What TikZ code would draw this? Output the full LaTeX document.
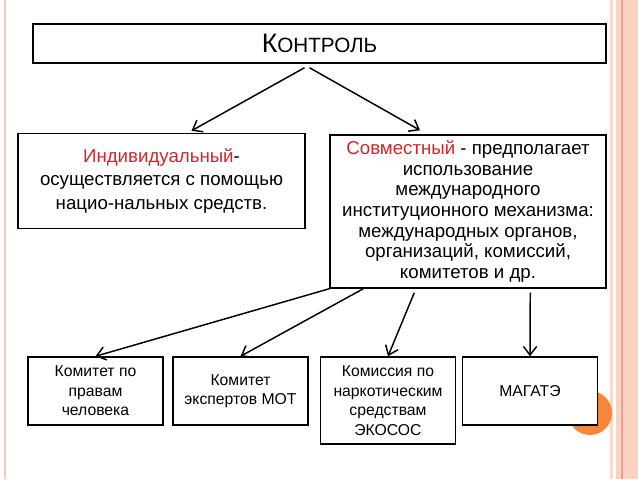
\documentclass[tikz,border=0pt]{standalone}
\usepackage{fontspec}
\setmainfont{Liberation Sans}
\usetikzlibrary{arrows.meta,calc}

\definecolor{redword}{RGB}{212,38,38}
\definecolor{bandpink}{RGB}{252,210,195}
\definecolor{bandlight}{RGB}{249,218,206}
\definecolor{bandline}{RGB}{236,160,135}
\definecolor{leftline}{RGB}{243,201,186}
\definecolor{dotorange}{RGB}{247,134,58}

\tikzset{
  box/.style={draw,line width=1.1pt,inner sep=0pt,align=center},
  midtext/.style={font=\fontsize{14}{17.6}\selectfont},
  lowtext/.style={font=\fontsize{11.8}{14.6}\selectfont},
  arr/.style={line width=1.1pt,-{Straight Barb[length=6.5pt,width=10pt]}},
}

\begin{document}
\begin{tikzpicture}[x=0.75pt,y=0.75pt,yscale=-1,xscale=1]
	\path[use as bounding box,fill=white] (0,0) rectangle (638,479);

	% Page frame
	\draw [color=leftline,line width=2.2pt] (5,0) -- (5,479) ;
	\fill [bandpink] (610,0) rectangle (638,479) ;
	\fill [bandlight] (610,0) rectangle (613,479) ;
	\fill [white] (613,0) rectangle (616,479) ;
	\draw [color=bandline,line width=1.3pt] (622,0) -- (622,479) ;
	% Dot
	\fill [dotorange] (590,413) circle [radius=22] ;

	% Text Node
	\node [box,minimum width=429.75pt,minimum height=29.25pt] (kontrol) at (319.5,43.5)
		{{\fontsize{20}{24}\selectfont К}{\fontsize{15.5}{18}\selectfont ОНТРОЛЬ}};
	% Text Node
	\node [box,midtext,fill=white,minimum width=215.25pt,minimum height=71.25pt] (indiv) at (161.5,181)
		{\textcolor{redword}{Индивидуальный}-\\осуществляется с помощью\\нацио-нальных средств.};
	% Text Node
	\node [box,font=\fontsize{14}{15.5}\selectfont,fill=white,minimum width=207pt,minimum height=114.75pt] (sovm) at (468,211.5)
		{\textcolor{redword}{Совместный} - предполагает\\использование\\международного\\институционного механизма:\\международных органов,\\организаций, комиссий,\\комитетов и др.};
	% Text Node
	\node [box,lowtext,fill=white,minimum width=101.25pt,minimum height=51pt] (kprava) at (95.5,391)
		{Комитет по\\правам\\человека};
	% Text Node
	\node [box,lowtext,fill=white,minimum width=101.25pt,minimum height=51pt] (kmot) at (240.5,391)
		{Комитет\\экспертов МОТ};
	% Text Node
	\node [box,lowtext,fill=white,minimum width=101.25pt,minimum height=65.25pt] (knark) at (388,400.5)
		{Комиссия по\\наркотическим\\средствам\\ЭКОСОС};
	% Text Node
	\node [box,lowtext,fill=white,minimum width=101.25pt,minimum height=51pt] (magate) at (530,391)
		{МАГАТЭ};

	\coordinate (kl) at ($(kontrol.south)+(-15,4)$);
	\coordinate (kr) at ($(kontrol.south)+(-10,4)$);
	% Connection
	\draw [arr] (kl) -- ($(indiv.north)+(30,-2)$) ;
	% Connection
	\draw [arr] (kr) -- ($(sovm.north)+(-48,-4)$) ;
	% Connection
	\draw [arr] (sovm.south west) -- (kprava.north) ;
	% Connection
	\draw [arr] ($(sovm.south west)+(34,0)$) -- (kmot.north) ;
	% Connection
	\draw [arr] ($(sovm.south west)+(85,4)$) -- (knark.north) ;
	% Connection
	\draw [arr] ($(sovm.south west)+(201,4)$) -- (magate.north) ;

\end{tikzpicture}
\end{document}
